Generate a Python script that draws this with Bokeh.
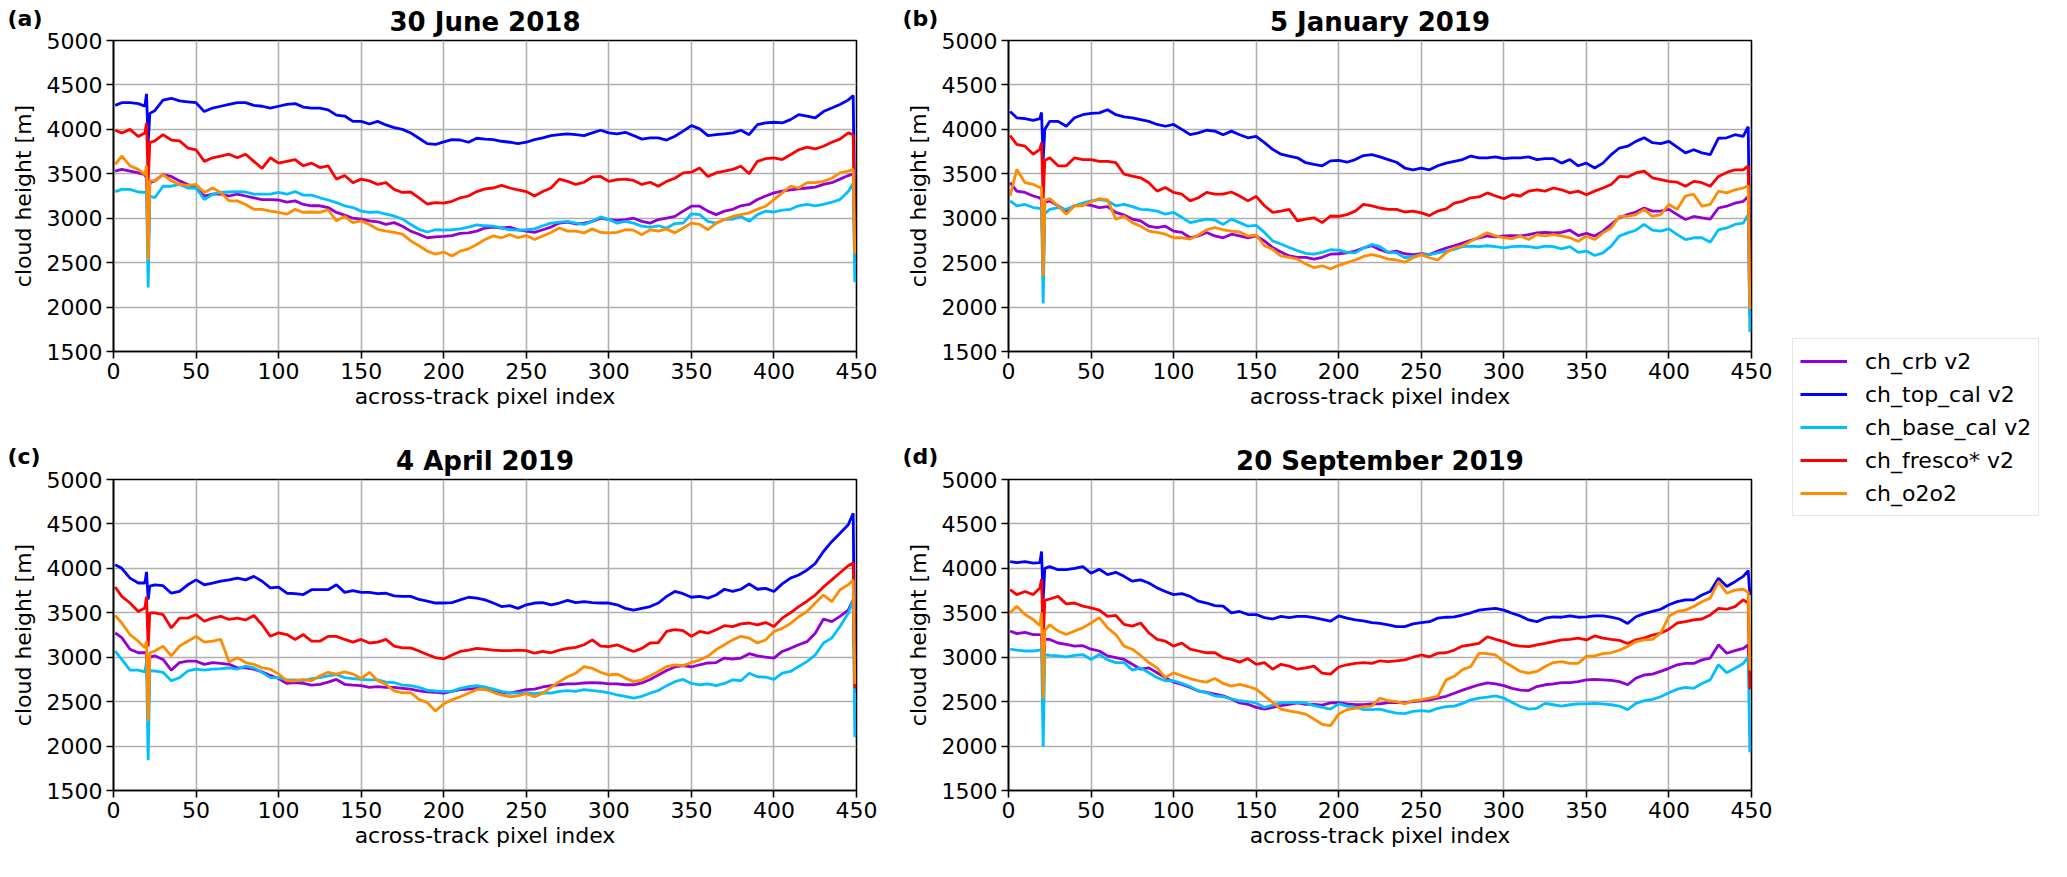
import math

from bokeh.plotting import figure
from bokeh.layouts import row, column
from bokeh.models import FixedTicker, Legend, LegendItem, Range1d
from bokeh.core.properties import value
from bokeh.embed import file_html
from bokeh.resources import INLINE

FONT = "DejaVu Sans"

SERIES = ["ch_crb v2", "ch_top_cal v2", "ch_base_cal v2", "ch_fresco* v2", "ch_o2o2"]
COLORS = ["#9400d3", "#0000ff", "#00bfff", "#ff0000", "#ff8c00"]

X_TICKS = [0, 50, 100, 150, 200, 250, 300, 350, 400, 450]
Y_TICKS = [1500, 2000, 2500, 3000, 3500, 4000, 4500, 5000]

# across-track pixel index of the sampled points
PIXEL = [1, 5, 10, 15, 19, 20, 21, 22,
         25, 30, 35, 40, 45, 50, 55, 60, 65, 70,
         75, 80, 85, 90, 95, 100, 105, 110, 115, 120,
         125, 130, 135, 140, 145, 150, 155, 160, 165, 170,
         175, 180, 185, 190, 195, 200, 205, 210, 215, 220,
         225, 230, 235, 240, 245, 250, 255, 260, 265, 270,
         275, 280, 285, 290, 295, 300, 305, 310, 315, 320,
         325, 330, 335, 340, 345, 350, 355, 360, 365, 370,
         375, 380, 385, 390, 395, 400, 405, 410, 415, 420,
         425, 430, 435, 440, 445, 448, 449]

# (a) 30 June 2018
jun18_crb = [3530, 3550, 3530, 3510, 3490, 3450, 2550, 3400,
             3420, 3490, 3470, 3420, 3380, 3340, 3250, 3270, 3270, 3250,
             3270, 3250, 3230, 3210, 3210, 3205, 3180, 3195, 3155, 3140,
             3140, 3120, 3065, 3035, 3000, 2990, 2970, 2960, 2930, 2950,
             2910, 2855, 2820, 2780, 2790, 2795, 2805, 2830, 2835, 2855,
             2890, 2900, 2890, 2900, 2870, 2855, 2840, 2870, 2900, 2945,
             2955, 2935, 2945, 2965, 3000, 2985, 2975, 2985, 3000, 2965,
             2945, 2985, 3000, 3020, 3080, 3135, 3135, 3080, 3040, 3080,
             3100, 3140, 3155, 3210, 3250, 3285, 3305, 3320, 3330, 3340,
             3350, 3380, 3400, 3440, 3480, 3500, 2500]
jun18_top = [4270, 4300, 4300, 4290, 4260, 4400, 3850, 4180,
             4210, 4330, 4350, 4320, 4310, 4300, 4200, 4240, 4260, 4280,
             4300, 4300, 4270, 4260, 4240, 4260, 4280, 4290, 4250, 4240,
             4240, 4220, 4160, 4150, 4090, 4090, 4060, 4090, 4050, 4020,
             4000, 3960, 3900, 3840, 3830, 3860, 3885, 3880, 3855, 3900,
             3890, 3885, 3866, 3855, 3840, 3855, 3885, 3904, 3930, 3940,
             3950, 3940, 3930, 3960, 3990, 3960, 3950, 3967, 3930, 3890,
             3904, 3904, 3880, 3922, 3980, 4043, 4005, 3930, 3940, 3950,
             3960, 3990, 3940, 4054, 4072, 4080, 4072, 4110, 4166, 4148,
             4130, 4200, 4240, 4280, 4330, 4380, 2800]
jun18_base = [3300, 3325, 3325, 3295, 3290, 3300, 2220, 3250,
              3230, 3360, 3360, 3380, 3340, 3340, 3210, 3270, 3290, 3295,
              3300, 3295, 3270, 3270, 3270, 3290, 3270, 3300, 3260, 3260,
              3230, 3205, 3175, 3140, 3120, 3080, 3065, 3070, 3045, 3025,
              2990, 2930, 2875, 2845, 2870, 2865, 2870, 2880, 2900, 2925,
              2915, 2910, 2890, 2870, 2865, 2870, 2880, 2915, 2945, 2955,
              2965, 2945, 2930, 2965, 3015, 2985, 2945, 2965, 2945, 2910,
              2900, 2915, 2890, 2940, 2945, 3050, 3040, 2965, 2945, 2985,
              2990, 3020, 2965, 3040, 3080, 3070, 3090, 3100, 3140, 3155,
              3140, 3155, 3180, 3210, 3300, 3395, 2280]
jun18_fresco = [3990, 3960, 4000, 3920, 3960, 4070, 3420, 3850,
                3870, 3940, 3880, 3870, 3790, 3770, 3640, 3680, 3700, 3720,
                3680, 3720, 3640, 3560, 3680, 3620, 3640, 3660, 3590, 3620,
                3570, 3590, 3440, 3480, 3400, 3440, 3420, 3380, 3400, 3325,
                3290, 3295, 3230, 3160, 3175, 3170, 3190, 3230, 3250, 3300,
                3330, 3340, 3370, 3340, 3320, 3300, 3250, 3300, 3340, 3440,
                3415, 3380, 3405, 3465, 3470, 3415, 3435, 3440, 3425, 3380,
                3405, 3360, 3415, 3450, 3510, 3518, 3566, 3470, 3510, 3530,
                3550, 3585, 3500, 3640, 3670, 3680, 3660, 3715, 3770, 3800,
                3780, 3810, 3855, 3890, 3960, 3940, 2700]
jun18_o2o2 = [3605, 3700, 3590, 3550, 3490, 3590, 2530, 3420,
              3420, 3490, 3420, 3380, 3370, 3380, 3290, 3340, 3290, 3195,
              3195, 3155, 3100, 3100, 3080, 3065, 3045, 3100, 3065, 3070,
              3065, 3095, 2970, 3020, 2950, 2970, 2930, 2875, 2855, 2840,
              2820, 2745, 2690, 2630, 2595, 2620, 2575, 2630, 2655, 2705,
              2760, 2800, 2780, 2815, 2780, 2805, 2760, 2800, 2840, 2890,
              2855, 2855, 2835, 2880, 2840, 2835, 2840, 2870, 2865, 2815,
              2870, 2855, 2880, 2835, 2890, 2945, 2930, 2870, 2945, 2985,
              3020, 3040, 3060, 3100, 3135, 3210, 3285, 3360, 3340, 3400,
              3400, 3415, 3450, 3510, 3530, 3550, 2600]

# (b) 5 January 2019
jan19_crb = [3400, 3305, 3290, 3250, 3230, 3200, 2400, 3180,
             3195, 3140, 3080, 3140, 3155, 3145, 3120, 3130, 3065, 3035,
             2990, 2970, 2910, 2895, 2910, 2855, 2840, 2780, 2800, 2840,
             2800, 2780, 2820, 2800, 2780, 2800, 2745, 2670, 2620, 2575,
             2560, 2560, 2540, 2560, 2595, 2600, 2610, 2630, 2665, 2690,
             2645, 2615, 2630, 2600, 2590, 2600, 2590, 2630, 2665, 2690,
             2720, 2750, 2780, 2800, 2790, 2800, 2805, 2800, 2815, 2835,
             2840, 2835, 2840, 2865, 2805, 2830, 2800, 2855, 2930, 3005,
             3040, 3070, 3115, 3080, 3080, 3100, 3040, 2985, 3020, 3005,
             2990, 3115, 3135, 3170, 3190, 3245, 1900]
jan19_top = [4200, 4130, 4120, 4100, 4120, 4190, 3660, 4000,
             4090, 4090, 4035, 4130, 4165, 4180, 4185, 4220, 4165, 4140,
             4130, 4110, 4090, 4055, 4035, 4055, 4000, 3940, 3960, 3990,
             3980, 3940, 3980, 3940, 3905, 3920, 3850, 3775, 3720, 3700,
             3680, 3625, 3605, 3590, 3645, 3650, 3630, 3660, 3705, 3715,
             3690, 3660, 3630, 3565, 3545, 3565, 3545, 3590, 3620, 3640,
             3660, 3700, 3680, 3680, 3690, 3670, 3680, 3680, 3690, 3660,
             3670, 3670, 3620, 3660, 3590, 3620, 3565, 3620, 3715, 3790,
             3810, 3865, 3905, 3850, 3840, 3865, 3800, 3735, 3770, 3735,
             3715, 3900, 3905, 3940, 3920, 4030, 2600]
jan19_base = [3195, 3140, 3155, 3120, 3110, 3100, 2040, 3050,
              3100, 3120, 3100, 3140, 3170, 3195, 3210, 3195, 3140, 3155,
              3130, 3100, 3095, 3080, 3045, 3065, 3010, 2950, 2970, 2990,
              2980, 2930, 2990, 2950, 2910, 2920, 2840, 2745, 2710, 2670,
              2635, 2605, 2595, 2615, 2645, 2640, 2615, 2610, 2665, 2705,
              2680, 2615, 2610, 2555, 2570, 2590, 2590, 2610, 2630, 2650,
              2680, 2685, 2680, 2690, 2680, 2665, 2680, 2685, 2680, 2665,
              2685, 2680, 2655, 2680, 2615, 2630, 2580, 2610, 2685, 2800,
              2835, 2865, 2930, 2865, 2855, 2880, 2815, 2760, 2780, 2780,
              2730, 2870, 2890, 2930, 2945, 3040, 1720]
jan19_fresco = [3930, 3830, 3810, 3720, 3775, 3850, 3220, 3650,
                3680, 3590, 3590, 3680, 3660, 3660, 3640, 3640, 3625, 3495,
                3475, 3455, 3400, 3305, 3345, 3290, 3270, 3195, 3230, 3290,
                3270, 3270, 3295, 3250, 3195, 3245, 3140, 3065, 3080, 3100,
                2970, 2990, 3005, 2950, 3025, 3020, 3040, 3080, 3155, 3140,
                3115, 3100, 3100, 3070, 3080, 3060, 3030, 3080, 3105, 3170,
                3190, 3230, 3240, 3285, 3250, 3220, 3265, 3250, 3305, 3320,
                3305, 3340, 3320, 3285, 3305, 3265, 3305, 3340, 3380, 3470,
                3465, 3510, 3530, 3455, 3435, 3415, 3405, 3360, 3415, 3400,
                3360, 3470, 3515, 3545, 3545, 3590, 2300]
jan19_o2o2 = [3250, 3550, 3400, 3380, 3345, 3350, 2350, 3200,
              3220, 3140, 3045, 3140, 3140, 3185, 3220, 3205, 2990, 3020,
              2950, 2910, 2855, 2840, 2820, 2780, 2780, 2765, 2810, 2870,
              2895, 2870, 2855, 2845, 2800, 2810, 2690, 2650, 2575, 2560,
              2540, 2485, 2445, 2465, 2430, 2470, 2500, 2530, 2570, 2590,
              2570, 2540, 2530, 2505, 2555, 2590, 2555, 2530, 2610, 2665,
              2690, 2740, 2790, 2835, 2800, 2780, 2770, 2800, 2760, 2815,
              2800, 2815, 2800, 2780, 2740, 2800, 2760, 2835, 2890, 3020,
              3020, 3040, 3100, 3020, 3040, 3155, 3100, 3250, 3270, 3135,
              3155, 3305, 3285, 3320, 3340, 3365, 1980]

# (c) 4 April 2019
apr19_crb = [3275, 3220, 3090, 3050, 3050, 3050, 2300, 3000,
             3015, 2975, 2855, 2940, 2955, 2955, 2920, 2940, 2930, 2920,
             2880, 2880, 2865, 2835, 2795, 2760, 2705, 2715, 2705, 2685,
             2695, 2720, 2750, 2695, 2685, 2680, 2660, 2670, 2660, 2660,
             2650, 2640, 2620, 2610, 2605, 2595, 2615, 2635, 2640, 2650,
             2640, 2625, 2605, 2595, 2615, 2635, 2640, 2665, 2680, 2690,
             2700, 2700, 2710, 2715, 2710, 2700, 2700, 2690, 2690, 2710,
             2750, 2800, 2850, 2890, 2905, 2890, 2915, 2935, 2940, 2990,
             2980, 2990, 3040, 3015, 3000, 2990, 3065, 3100, 3140, 3175,
             3270, 3430, 3400, 3460, 3530, 3645, 2600]
apr19_top = [4040, 4000, 3890, 3835, 3835, 3960, 3650, 3800,
             3815, 3805, 3720, 3740, 3815, 3870, 3815, 3835, 3855, 3870,
             3890, 3870, 3910, 3855, 3780, 3790, 3720, 3715, 3705, 3760,
             3760, 3760, 3815, 3730, 3750, 3730, 3730, 3715, 3720, 3690,
             3685, 3685, 3650, 3630, 3610, 3610, 3615, 3645, 3675, 3665,
             3645, 3610, 3570, 3580, 3550, 3590, 3610, 3615, 3590, 3610,
             3640, 3615, 3625, 3615, 3610, 3610, 3590, 3550, 3530, 3550,
             3570, 3610, 3685, 3740, 3715, 3675, 3685, 3665, 3700, 3765,
             3740, 3765, 3825, 3765, 3775, 3740, 3825, 3890, 3925, 3980,
             4055, 4190, 4300, 4395, 4490, 4620, 2650]
apr19_base = [3070, 2975, 2855, 2855, 2835, 2950, 1840, 2850,
              2845, 2830, 2735, 2770, 2845, 2865, 2855, 2865, 2870, 2880,
              2865, 2900, 2880, 2830, 2770, 2770, 2745, 2745, 2735, 2760,
              2770, 2790, 2805, 2770, 2760, 2750, 2745, 2745, 2720, 2715,
              2685, 2680, 2660, 2630, 2620, 2615, 2615, 2650, 2670, 2680,
              2665, 2640, 2615, 2600, 2595, 2600, 2590, 2600, 2595, 2615,
              2625, 2615, 2635, 2625, 2615, 2600, 2575, 2560, 2540, 2560,
              2595, 2625, 2680, 2725, 2750, 2705, 2690, 2700, 2680, 2705,
              2745, 2735, 2820, 2780, 2775, 2750, 2820, 2840, 2895, 2950,
              3025, 3160, 3215, 3345, 3495, 3645, 2100]
apr19_fresco = [3790, 3685, 3610, 3515, 3555, 3680, 3120, 3500,
                3500, 3480, 3330, 3440, 3440, 3480, 3405, 3440, 3460, 3425,
                3440, 3420, 3470, 3365, 3235, 3275, 3255, 3200, 3255, 3180,
                3180, 3235, 3235, 3200, 3170, 3200, 3160, 3170, 3200, 3125,
                3105, 3105, 3070, 3030, 2995, 2980, 3025, 3065, 3080, 3100,
                3090, 3080, 3075, 3075, 3080, 3075, 3045, 3065, 3050, 3080,
                3100, 3110, 3140, 3195, 3125, 3120, 3140, 3100, 3065, 3100,
                3160, 3165, 3290, 3310, 3300, 3235, 3290, 3270, 3310, 3355,
                3345, 3375, 3385, 3365, 3390, 3345, 3440, 3500, 3570, 3630,
                3700, 3790, 3870, 3950, 4030, 4060, 2650]
apr19_o2o2 = [3470, 3385, 3255, 3180, 3105, 3180, 2280, 3050,
              3070, 3125, 3015, 3125, 3180, 3235, 3170, 3180, 3200, 2945,
              2995, 2940, 2920, 2880, 2865, 2810, 2735, 2735, 2750, 2735,
              2790, 2830, 2810, 2835, 2810, 2760, 2830, 2735, 2695, 2620,
              2600, 2600, 2525, 2490, 2395, 2475, 2520, 2555, 2595, 2635,
              2640, 2605, 2575, 2555, 2565, 2590, 2555, 2595, 2660, 2725,
              2780, 2820, 2895, 2875, 2830, 2800, 2810, 2765, 2725, 2745,
              2790, 2840, 2895, 2915, 2905, 2940, 2970, 3010, 3085, 3140,
              3195, 3235, 3215, 3160, 3195, 3290, 3325, 3380, 3455, 3515,
              3610, 3700, 3625, 3760, 3815, 3870, 2700]

# (d) 20 September 2019
sep19_crb = [3295, 3265, 3280, 3255, 3255, 3250, 2600, 3200,
             3200, 3160, 3145, 3125, 3130, 3090, 3070, 3015, 2995, 2975,
             2920, 2865, 2880, 2825, 2770, 2720, 2695, 2660, 2620, 2605,
             2585, 2565, 2530, 2485, 2470, 2435, 2415, 2435, 2455, 2470,
             2485, 2470, 2470, 2460, 2485, 2490, 2475, 2465, 2465, 2475,
             2475, 2490, 2490, 2490, 2500, 2510, 2520, 2540, 2560, 2595,
             2630, 2660, 2690, 2710, 2700, 2680, 2650, 2630, 2625, 2670,
             2690, 2700, 2715, 2715, 2725, 2745, 2750, 2745, 2740, 2725,
             2690, 2765, 2800, 2810, 2840, 2875, 2915, 2930, 2930, 2970,
             2990, 3140, 3045, 3075, 3100, 3140, 2700]
sep19_top = [4075, 4065, 4075, 4060, 4065, 4190, 3650, 4000,
             4020, 3985, 3985, 4000, 4020, 3945, 3990, 3930, 3955, 3910,
             3855, 3870, 3835, 3780, 3740, 3705, 3715, 3685, 3630, 3610,
             3580, 3575, 3500, 3515, 3480, 3480, 3445, 3430, 3460, 3445,
             3460, 3460, 3445, 3425, 3405, 3465, 3440, 3420, 3410, 3390,
             3380, 3365, 3345, 3345, 3375, 3390, 3400, 3440, 3450, 3455,
             3475, 3500, 3530, 3540, 3550, 3530, 3495, 3465, 3420, 3400,
             3440, 3455, 3450, 3465, 3450, 3455, 3465, 3465, 3450, 3430,
             3380, 3455, 3490, 3515, 3540, 3590, 3625, 3645, 3645, 3700,
             3740, 3890, 3795, 3850, 3910, 3975, 3700]
sep19_base = [3090, 3080, 3070, 3070, 3080, 3100, 1990, 3030,
              3020, 3015, 3005, 3020, 3030, 2975, 3030, 2970, 2940, 2940,
              2855, 2880, 2825, 2770, 2735, 2735, 2705, 2670, 2620, 2600,
              2565, 2555, 2530, 2510, 2500, 2485, 2435, 2460, 2485, 2490,
              2490, 2485, 2455, 2435, 2415, 2475, 2450, 2440, 2410, 2410,
              2415, 2390, 2370, 2365, 2390, 2400, 2390, 2425, 2445, 2450,
              2480, 2520, 2540, 2550, 2565, 2540, 2490, 2445, 2415, 2425,
              2480, 2465, 2450, 2465, 2475, 2475, 2480, 2475, 2465, 2450,
              2410, 2480, 2510, 2525, 2555, 2600, 2640, 2660, 2650, 2705,
              2745, 2915, 2825, 2875, 2930, 3000, 1930]
sep19_fresco = [3760, 3705, 3740, 3705, 3780, 3880, 3200, 3640,
                3655, 3685, 3600, 3610, 3575, 3555, 3530, 3460, 3470, 3370,
                3350, 3385, 3275, 3200, 3180, 3125, 3160, 3090, 3070, 3050,
                3050, 2995, 2975, 2945, 2985, 2920, 2940, 2865, 2920, 2900,
                2865, 2880, 2900, 2820, 2810, 2890, 2915, 2930, 2940, 2930,
                2960, 2950, 2960, 2970, 3000, 3025, 3005, 3045, 3050, 3080,
                3125, 3140, 3155, 3230, 3200, 3175, 3140, 3125, 3120, 3140,
                3155, 3175, 3195, 3200, 3215, 3195, 3240, 3215, 3200, 3190,
                3155, 3195, 3215, 3250, 3270, 3315, 3385, 3400, 3420, 3430,
                3475, 3550, 3540, 3570, 3645, 3610, 2640]
sep19_o2o2 = [3500, 3575, 3480, 3425, 3355, 3500, 2530, 3300,
              3365, 3295, 3255, 3295, 3330, 3385, 3445, 3330, 3255, 3125,
              3090, 3020, 2940, 2880, 2770, 2825, 2790, 2760, 2735, 2720,
              2760, 2705, 2675, 2695, 2670, 2640, 2565, 2490, 2415, 2395,
              2380, 2360, 2305, 2245, 2230, 2360, 2410, 2425, 2445, 2450,
              2540, 2510, 2500, 2475, 2510, 2520, 2540, 2560, 2745, 2785,
              2860, 2895, 3045, 3040, 3025, 2950, 2895, 2840, 2820, 2840,
              2895, 2940, 2950, 2930, 2930, 3010, 3015, 3040, 3050, 3080,
              3120, 3175, 3195, 3200, 3270, 3460, 3515, 3530, 3570, 3625,
              3665, 3850, 3720, 3755, 3765, 3730, 2850]


def make_panel(title, curves, left, right, top, bottom):
    p = figure(width=left + 745 + right, height=top + 311 + bottom,
               min_border_left=left, min_border_right=right,
               min_border_top=top, min_border_bottom=bottom,
               x_range=Range1d(0, 450), y_range=Range1d(1500, 5000),
               title=title, x_axis_label="across-track pixel index",
               output_backend="svg", toolbar_location=None)
    p.title.align = "center"
    p.title.text_font = FONT
    p.title.text_font_size = "26px"
    p.title.text_font_style = "bold"
    p.title.text_color = "black"
    p.title.standoff = 8

    p.grid.grid_line_color = "#b0b0b0"
    p.grid.grid_line_width = 1.6
    p.outline_line_color = "black"
    p.outline_line_width = 1.6
    p.outline_line_alpha = 1.0

    for vals, color in zip(curves, COLORS):
        p.line(PIXEL, vals, color=color, line_width=2.8)

    p.xaxis.ticker = FixedTicker(ticks=X_TICKS)
    p.yaxis.ticker = FixedTicker(ticks=Y_TICKS)
    p.axis.axis_line_color = "black"
    p.axis.axis_line_width = 1.6
    p.axis.major_tick_out = 7
    p.axis.major_tick_in = 0
    p.axis.major_tick_line_width = 1.6
    p.axis.major_tick_line_color = "black"
    p.axis.minor_tick_out = 0
    p.axis.minor_tick_in = 0
    p.axis.major_label_standoff = 4
    p.axis.major_label_text_font = FONT
    p.axis.major_label_text_font_size = "22px"
    p.axis.major_label_text_color = "black"
    p.xaxis.axis_label_text_font = FONT
    p.xaxis.axis_label_text_font_size = "22px"
    p.xaxis.axis_label_text_font_style = "normal"
    p.xaxis.axis_label_text_color = "black"
    p.xaxis.axis_label_standoff = 2
    return p


def text_box(width, height):
    b = figure(width=width, height=height, x_range=Range1d(0, width),
               y_range=Range1d(0, height), x_axis_type=None, y_axis_type=None,
               min_border=0, output_backend="svg", toolbar_location=None)
    b.outline_line_color = None
    return b


def make_gutter(width, top_h, rest_h, tag, tag_x, tag_y, label_x, label_y):
    # narrow column left of a panel: panel tag on top, y-axis title below
    tag_box = text_box(width, top_h)
    tag_box.text(x=[tag_x], y=[tag_y], text=[tag], text_font=value(FONT),
                 text_font_size="22px", text_font_style="bold", text_color="black",
                 text_align="left", text_baseline="middle")
    lab_box = text_box(width, rest_h)
    lab_box.text(x=[label_x], y=[label_y], text=["cloud height [m]"],
                 angle=math.pi / 2, text_font=value(FONT), text_font_size="22px",
                 text_color="black", text_align="center", text_baseline="middle")
    return column(tag_box, lab_box)


gut_a = make_gutter(43, 40, 392, "(a)", 7, 21.6, 23, 236.5)
gut_b = make_gutter(58, 40, 392, "(b)", 22, 21.6, 37.8, 236.5)
gut_c = make_gutter(43, 47, 377, "(c)", 7, 22.6, 23, 221.5)
gut_d = make_gutter(58, 47, 377, "(d)", 22, 22.6, 37.8, 221.5)

fig_a = make_panel("30 June 2018",
                   [jun18_crb, jun18_top, jun18_base, jun18_fresco, jun18_o2o2],
                   68, 24, 40, 81)
fig_b = make_panel("5 January 2019",
                   [jan19_crb, jan19_top, jan19_base, jan19_fresco, jan19_o2o2],
                   68, 22, 40, 81)
fig_c = make_panel("4 April 2019",
                   [apr19_crb, apr19_top, apr19_base, apr19_fresco, apr19_o2o2],
                   68, 24, 47, 66)
fig_d = make_panel("20 September 2019",
                   [sep19_crb, sep19_top, sep19_base, sep19_fresco, sep19_o2o2],
                   68, 22, 47, 66)

# legend lives in its own narrow figure at the right
lf = figure(width=273, height=856, x_range=Range1d(0, 1), y_range=Range1d(0, 1),
            x_axis_type=None, y_axis_type=None, min_border=0,
            output_backend="svg", toolbar_location=None)
lf.outline_line_color = None
items = []
for name, color in zip(SERIES, COLORS):
    r = lf.line(x=[2, 3], y=[2, 3], color=color, line_width=2.8)
    items.append(LegendItem(label=name, renderers=[r]))
leg = Legend(items=items, location=(19, 340), margin=0, padding=7,
             spacing=3, glyph_width=47, glyph_height=30, label_height=30,
             label_standoff=18, label_text_font=FONT,
             label_text_font_size="22px", label_text_color="black",
             border_line_color="#cccccc", border_line_width=1.5,
             background_fill_color="white", background_fill_alpha=1.0)
lf.add_layout(leg)

left_block = column(row(gut_a, fig_a, gut_b, fig_b), row(gut_c, fig_c, gut_d, fig_d))
layout = row(left_block, lf)

open("out.html", "w").write(file_html(layout, INLINE))
